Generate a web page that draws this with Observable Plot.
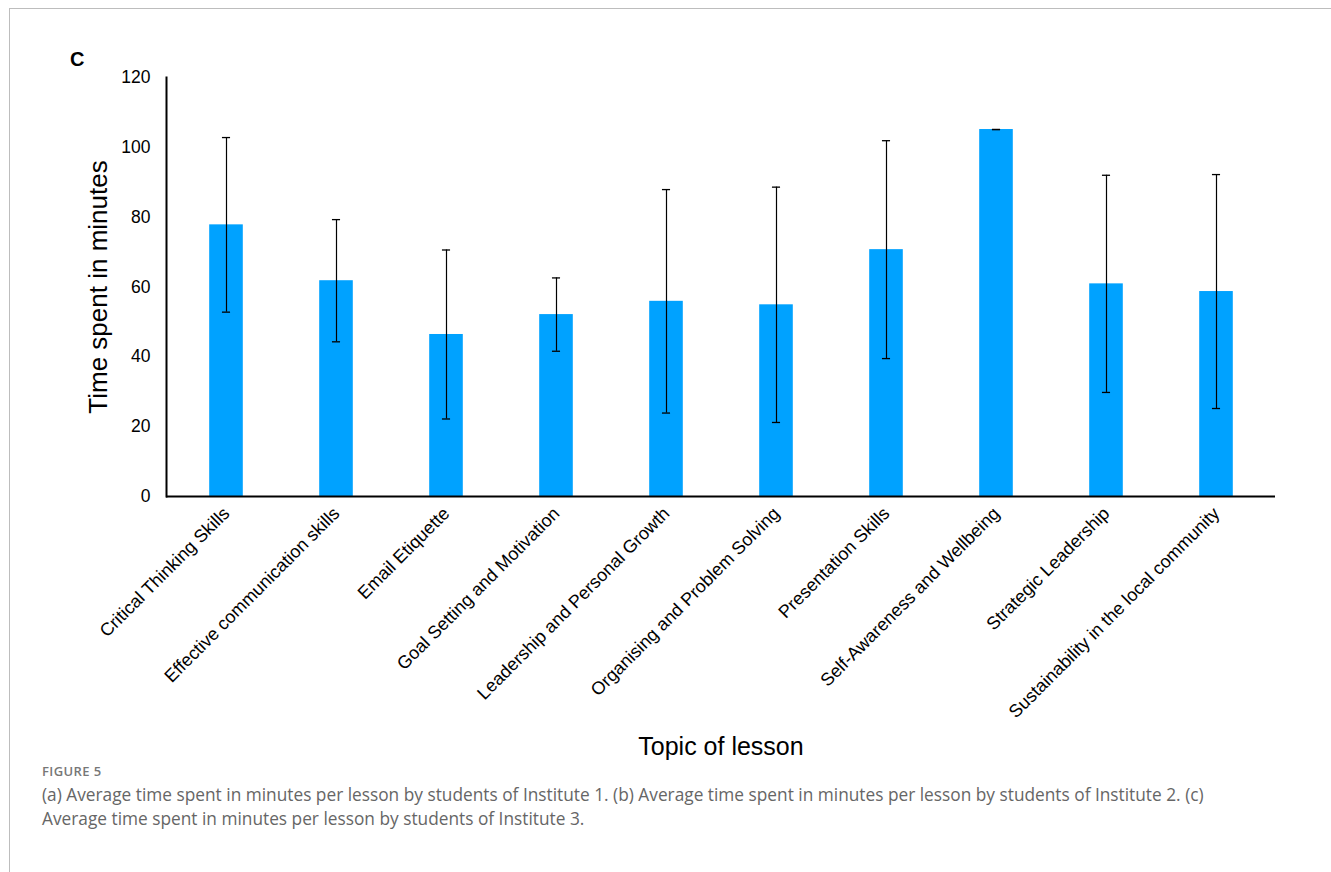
<!DOCTYPE html>
<html>
<head>
<meta charset="utf-8">
<script src="https://cdn.jsdelivr.net/npm/d3@7"></script>
<script src="https://cdn.jsdelivr.net/npm/@observablehq/plot@0.6"></script>
<style>
  html, body { margin: 0; padding: 0; background: #fff; }
  body { width: 1331px; height: 872px; position: relative; overflow: hidden; }
  #frame { position: absolute; left: 9px; top: 8px; right: -2px; bottom: -2px; border-top: 1px solid #bdbdbd; border-left: 1px solid #bdbdbd; }
  #chart { position: absolute; left: 0; top: 0; }
  #panel { position: absolute; left: 70px; top: 48px; font: bold 20px "Liberation Sans", Arial, sans-serif; color: #000; }
  #fig { position: absolute; left: 42px; top: 762px; font: 600 13px "Open Sans", "Noto Sans", sans-serif; color: #777; letter-spacing: 0.4px; }
  #cap { position: absolute; left: 42px; top: 783px; width: 1210px; font: 17.3px/24px "Open Sans", "Noto Sans", sans-serif; color: #666; }
</style>
</head>
<body>
<div id="frame"></div>
<div id="chart"></div>
<div id="panel">C</div>
<div id="fig">FIGURE 5</div>
<div id="cap">(a) Average time spent in minutes per lesson by students of Institute 1. (b) Average time spent in minutes per lesson by students of Institute 2. (c) Average time spent in minutes per lesson by students of Institute 3.</div>
<script>
const topics = [
  "Critical Thinking Skills",
  "Effective communication skills",
  "Email Etiquette",
  "Goal Setting and Motivation",
  "Leadership and Personal Growth",
  "Organising and Problem Solving",
  "Presentation Skills",
  "Self-Awareness and Wellbeing",
  "Strategic Leadership",
  "Sustainability in the local community"
];
const meanMinutes = [77.8, 61.8, 46.4, 52.1, 55.9, 54.9, 70.7, 105.1, 60.9, 58.7];
const sdMinutes   = [25.0, 17.5, 24.2, 10.5, 32.0, 33.7, 31.2, 0.0, 31.1, 33.5];
const yTicks = [0, 20, 40, 60, 80, 100, 120];

const rows = topics.map((t, i) => ({
  topic: t,
  mean: meanMinutes[i],
  lo: meanMinutes[i] - sdMinutes[i],
  hi: meanMinutes[i] + sdMinutes[i]
}));

const W = 1331, H = 760;
const mL = 166, mR = 56, mT = 77, mB = 264;
const band = (W - mL - mR) / topics.length;
const barW = 34.5, capW = 9;

const chart = Plot.plot({
  width: W,
  height: H,
  marginLeft: mL,
  marginRight: mR,
  marginTop: mT,
  marginBottom: mB,
  style: { fontFamily: "'Liberation Sans', Arial, sans-serif", background: "transparent", color: "#000" },
  x: { domain: topics, padding: 0 },
  y: { domain: [0, 120] },
  marks: [
    Plot.barY(rows, { x: "topic", y: "mean", fill: "#00a2ff", insetLeft: (band - barW) / 2, insetRight: (band - barW) / 2 }),
    Plot.ruleX(rows, { x: "topic", y1: "lo", y2: "hi", stroke: "#000", strokeWidth: 1.2 }),
    Plot.tickY(rows, { x: "topic", y: "hi", stroke: "#000", strokeWidth: 1.3, inset: (band - capW) / 2 }),
    Plot.tickY(rows, { x: "topic", y: "lo", stroke: "#000", strokeWidth: 1.3, inset: (band - capW) / 2 }),
    Plot.axisY({ ticks: yTicks, tickSize: 0, tickPadding: 16, fontSize: 17.5, label: "Time spent in minutes", labelAnchor: "center", labelArrow: "none", labelOffset: 78 }),
    Plot.axisX({ tickSize: 0, tickRotate: -45, tickPadding: 14, fontSize: 18, label: "Topic of lesson", labelAnchor: "center", labelArrow: "none", labelOffset: 258 }),
    Plot.frame({ anchor: "left", stroke: "#000", strokeWidth: 2 }),
    Plot.ruleY([0], { stroke: "#000", strokeWidth: 2 })
  ]
});
document.getElementById("chart").appendChild(chart);
// enlarge axis titles
chart.querySelectorAll("g[aria-label='y-axis label'] text").forEach(t => t.setAttribute("font-size", 26));
chart.querySelectorAll("g[aria-label='x-axis label'] text").forEach(t => t.setAttribute("font-size", 25));
</script>
</body>
</html>
